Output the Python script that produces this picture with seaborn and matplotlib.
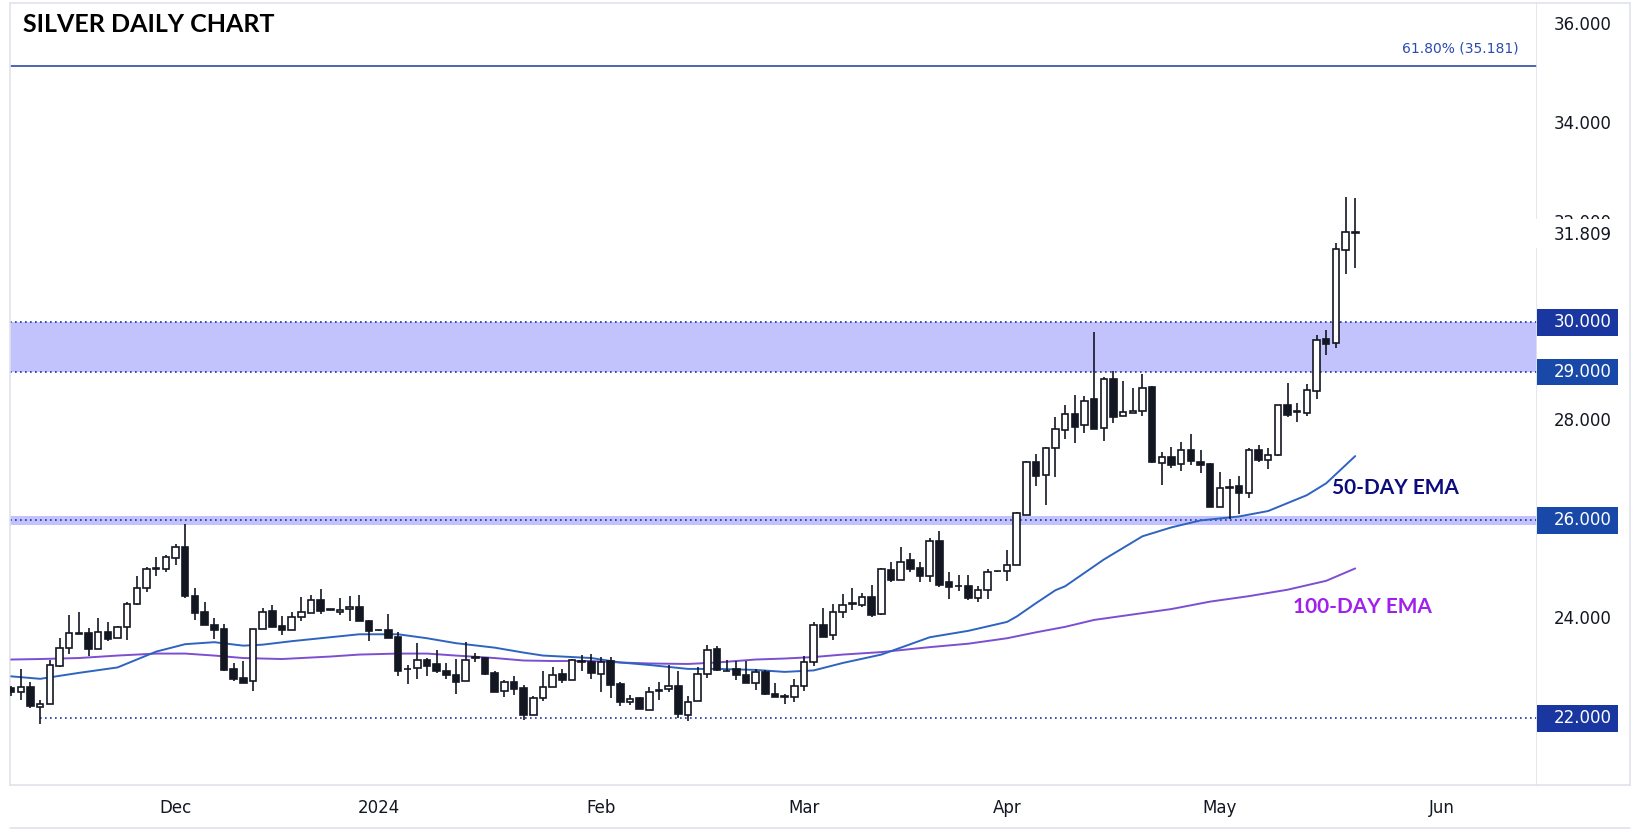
import numpy as np
import pandas as pd
import matplotlib
matplotlib.use("Agg")
import matplotlib.pyplot as plt
from matplotlib.patches import Rectangle
import seaborn as sns

# daily bars, weekdays from 8 Nov 2023 to 21 May 2024 (spot trades on holidays too)
dates = pd.bdate_range("2023-11-08", "2024-05-21")

opens = [22.61, 22.53, 22.63, 22.24, 22.30, 23.06, 23.43, 23.72, 23.72, 23.41,
         23.74, 23.62, 23.84, 24.32, 24.63, 25.02, 25.01, 25.25, 25.47, 24.48,
         24.14, 23.89, 23.80, 22.99, 22.81, 22.75, 23.80, 24.18, 23.86, 23.78,
         24.04, 24.12, 24.40, 24.20, 24.14, 24.22, 24.26, 23.96, 23.78, 23.78,
         23.64, 22.99, 23.01, 23.19, 23.09, 22.95, 22.87, 22.75, 23.22, 23.22,
         22.91, 22.55, 22.73, 22.61, 22.07, 22.42, 22.64, 22.90, 22.78, 23.17,
         23.14, 22.90, 23.17, 22.69, 22.33, 22.42, 22.18, 22.58, 22.60, 22.66,
         22.07, 22.36, 22.90, 23.41, 22.95, 22.99, 22.87, 22.71, 22.94, 22.50,
         22.44, 22.43, 22.65, 23.13, 23.89, 23.68, 24.16, 24.31, 24.30, 24.46,
         24.11, 24.99, 24.80, 25.20, 25.04, 24.88, 25.58, 24.75, 24.67, 24.67,
         24.44, 24.60, 24.97, 24.97, 25.09, 26.10, 27.19, 26.92, 27.47, 27.82,
         28.14, 27.92, 28.45, 27.87, 28.86, 28.10, 28.18, 28.22, 28.69, 27.15,
         27.29, 27.14, 27.43, 27.19, 27.14, 26.28, 26.66, 26.69, 26.56, 27.43,
         27.23, 27.33, 28.33, 28.20, 28.18, 28.61, 29.66, 29.58, 31.47, 31.82]
highs = [22.66, 23.00, 22.73, 22.37, 23.19, 23.62, 24.09, 24.15, 23.82, 24.03,
         23.95, 23.86, 24.35, 24.88, 25.05, 25.26, 25.31, 25.53, 25.93, 24.63,
         24.36, 24.03, 23.91, 23.12, 23.16, 23.80, 24.23, 24.29, 24.06, 24.16,
         24.45, 24.49, 24.61, 24.21, 24.43, 24.47, 24.49, 23.99, 23.79, 24.11,
         23.74, 23.08, 23.52, 23.22, 23.38, 23.11, 23.20, 23.54, 23.33, 23.24,
         22.96, 22.77, 22.86, 22.67, 22.45, 22.95, 23.03, 22.99, 23.21, 23.29,
         23.31, 23.25, 23.25, 22.73, 22.48, 22.44, 22.63, 22.73, 23.07, 22.95,
         22.46, 23.03, 23.49, 23.46, 23.19, 23.17, 23.17, 22.99, 22.97, 22.71,
         22.50, 22.79, 23.27, 23.95, 24.23, 24.31, 24.51, 24.63, 24.53, 24.69,
         25.04, 25.16, 25.46, 25.34, 25.16, 25.64, 25.79, 24.95, 24.89, 24.90,
         24.67, 25.02, 24.98, 25.40, 26.18, 27.21, 27.34, 27.49, 28.09, 28.33,
         28.53, 28.51, 29.80, 28.89, 29.01, 28.81, 28.67, 28.96, 28.71, 27.38,
         27.49, 27.58, 27.74, 27.43, 27.15, 26.97, 26.84, 26.89, 27.47, 27.52,
         27.47, 28.34, 28.77, 28.38, 28.75, 29.74, 29.85, 31.60, 32.53, 32.51]
lows = [22.45, 22.38, 22.21, 21.89, 22.30, 23.04, 23.31, 23.70, 23.27, 23.41,
        23.56, 23.62, 23.59, 24.30, 24.56, 24.88, 24.96, 25.10, 24.44, 23.99,
        23.89, 23.60, 22.96, 22.75, 22.72, 22.55, 23.80, 23.85, 23.69, 23.78,
        23.97, 24.12, 24.11, 24.19, 24.09, 23.97, 23.97, 23.57, 23.77, 23.63,
        22.86, 22.70, 22.80, 22.86, 22.92, 22.80, 22.50, 22.75, 23.13, 22.88,
        22.54, 22.44, 22.48, 21.96, 22.07, 22.35, 22.64, 22.71, 22.78, 22.96,
        22.80, 22.53, 22.41, 22.25, 22.27, 22.19, 22.18, 22.37, 22.53, 22.00,
        21.95, 22.36, 22.82, 22.96, 22.95, 22.78, 22.71, 22.57, 22.47, 22.43,
        22.29, 22.33, 22.55, 23.05, 23.65, 23.59, 24.03, 24.20, 24.26, 24.04,
        24.09, 24.76, 24.80, 24.96, 24.76, 24.76, 24.66, 24.42, 24.57, 24.39,
        24.36, 24.42, 24.96, 24.77, 25.09, 26.10, 26.70, 26.32, 26.88, 27.65,
        27.57, 27.77, 27.85, 27.61, 27.97, 28.10, 28.18, 28.10, 27.15, 26.71,
        27.06, 27.00, 27.11, 26.96, 26.28, 26.28, 26.03, 26.13, 26.45, 27.18,
        27.04, 27.31, 28.08, 27.99, 28.11, 28.46, 29.35, 29.49, 30.98, 31.10]
closes = [22.53, 22.63, 22.26, 22.30, 23.07, 23.43, 23.72, 23.70, 23.41, 23.74,
          23.61, 23.84, 24.31, 24.63, 25.02, 25.02, 25.27, 25.47, 24.48, 24.13,
          23.89, 23.79, 22.98, 22.80, 22.72, 23.80, 24.16, 23.85, 23.79, 24.04,
          24.14, 24.40, 24.18, 24.20, 24.20, 24.26, 23.97, 23.77, 23.78, 23.63,
          22.96, 23.00, 23.19, 23.06, 22.96, 22.88, 22.74, 23.19, 23.22, 22.90,
          22.54, 22.73, 22.60, 22.07, 22.42, 22.64, 22.88, 22.77, 23.19, 23.14,
          22.92, 23.14, 22.67, 22.33, 22.40, 22.19, 22.54, 22.55, 22.66, 22.09,
          22.34, 22.90, 23.39, 22.98, 22.95, 22.88, 22.71, 22.94, 22.49, 22.43,
          22.44, 22.66, 23.14, 23.89, 23.65, 24.16, 24.30, 24.33, 24.46, 24.09,
          25.02, 24.80, 25.17, 25.02, 24.88, 25.58, 24.70, 24.66, 24.67, 24.44,
          24.60, 24.95, 24.97, 25.09, 26.15, 27.19, 26.90, 27.47, 27.84, 28.14,
          27.89, 28.42, 27.85, 28.85, 28.08, 28.20, 28.22, 28.67, 27.19, 27.29,
          27.12, 27.43, 27.21, 27.12, 26.28, 26.65, 26.66, 26.56, 27.43, 27.23,
          27.33, 28.34, 28.13, 28.20, 28.63, 29.64, 29.57, 31.49, 31.82, 31.809]

# EMA values
ema50_dates = ["2023-11-08", "2023-11-13", "2023-11-17", "2023-11-23", "2023-11-29",
               "2023-12-04", "2023-12-07", "2023-12-12", "2023-12-14", "2023-12-19",
               "2023-12-25", "2023-12-28", "2024-01-03", "2024-01-08", "2024-01-11",
               "2024-01-17", "2024-01-22", "2024-01-24", "2024-01-31", "2024-02-05",
               "2024-02-08", "2024-02-14", "2024-02-19", "2024-02-23", "2024-02-28",
               "2024-03-04", "2024-03-07", "2024-03-13", "2024-03-20", "2024-03-26",
               "2024-04-01", "2024-04-02", "2024-04-04", "2024-04-08", "2024-04-09",
               "2024-04-15", "2024-04-19", "2024-04-24", "2024-04-29", "2024-05-03",
               "2024-05-08", "2024-05-14", "2024-05-16", "2024-05-21"]
ema50_vals = [22.85, 22.80, 22.92, 23.03, 23.35, 23.50, 23.54, 23.47, 23.49, 23.56,
              23.64, 23.70, 23.70, 23.62, 23.52, 23.43, 23.33, 23.27, 23.22, 23.13,
              23.08, 23.00, 23.00, 22.98, 22.94, 22.97, 23.12, 23.29, 23.64, 23.77,
              23.95, 24.06, 24.33, 24.59, 24.67, 25.21, 25.68, 25.86, 26.00, 26.08,
              26.19, 26.51, 26.75, 27.30]
ema100_dates = ["2023-11-08", "2023-11-13", "2023-11-17", "2023-11-23", "2023-11-29",
                "2023-12-04", "2023-12-07", "2023-12-12", "2023-12-18", "2023-12-25",
                "2023-12-28", "2024-01-03", "2024-01-08", "2024-01-11", "2024-01-17",
                "2024-01-22", "2024-01-25", "2024-01-31", "2024-02-05", "2024-02-08",
                "2024-02-14", "2024-02-19", "2024-02-23", "2024-02-28", "2024-03-04",
                "2024-03-07", "2024-03-13", "2024-03-20", "2024-03-26", "2024-04-01",
                "2024-04-04", "2024-04-09", "2024-04-12", "2024-04-18", "2024-04-24",
                "2024-04-30", "2024-05-06", "2024-05-10", "2024-05-16", "2024-05-21"]
ema100_vals = [23.19, 23.20, 23.22, 23.27, 23.31, 23.31, 23.27, 23.22, 23.20, 23.25,
               23.29, 23.31, 23.31, 23.27, 23.22, 23.17, 23.16, 23.16, 23.13, 23.11,
               23.10, 23.13, 23.19, 23.21, 23.24, 23.29, 23.34, 23.44, 23.51, 23.62,
               23.74, 23.85, 23.99, 24.10, 24.21, 24.36, 24.47, 24.60, 24.78, 25.03]

month_dates = ["2023-12-01", "2024-01-01", "2024-02-01", "2024-03-01",
               "2024-04-01", "2024-05-01", "2024-06-03"]
month_labels = ["Dec", "2024", "Feb", "Mar", "Apr", "May", "Jun"]

zone_hi = (29.0, 30.0)
zone_lo = (25.9, 26.09)
support = 22.0
fib_level = 35.181
last_price = closes[-1]

plain_ticks = [24, 28, 32, 34, 36]
boxed_ticks = [30, 29, 26, 22]

sns.set_theme(style="white")
plt.rcParams["font.family"] = ["DejaVu Sans"]

dark = "#131722"
grid_c = "#e0e3eb"
dot_c = "#1f2fa8"
W, H = 1634, 831
fig = plt.figure(figsize=(W / 100, H / 100), dpi=100)
fig.patch.set_facecolor("white")

bot, top = 46 / H, 828 / H
ax = fig.add_axes([10 / W, bot, 1527 / W, top - bot])
pax = fig.add_axes([1537 / W, bot, 93 / W, top - bot])

df = pd.DataFrame({"date": dates, "open": opens, "high": highs,
                   "low": lows, "close": closes})
df["i"] = np.arange(len(df))
up = df["close"] > df["open"]

# zones and levels
ax.axhspan(*zone_hi, color="#c2c2fd", lw=0, zorder=1)
ax.axhspan(*zone_lo, color="#c2c2fd", lw=0, zorder=1)
for lv in [zone_hi[0], zone_hi[1], 26.0]:
    ax.axhline(lv, color=dot_c, lw=1.2, ls=(0, (1, 2)), zorder=2)
ax.hlines(support, 3, 200, color=dot_c, lw=1.2, ls=(0, (1, 2)), zorder=2)
ax.axhline(fib_level, color="#1e3a9e", lw=1.1, zorder=2)
ax.text(155.9, fib_level + 0.22, "61.80% (35.181)", color="#2a4bb0",
        fontsize=10, ha="right", va="bottom")

# moving averages
pos50 = dates.get_indexer(pd.to_datetime(ema50_dates))
pos100 = dates.get_indexer(pd.to_datetime(ema100_dates))
sns.lineplot(x=pos100, y=ema100_vals, ax=ax, color="#7c4fd2", lw=1.4,
             estimator=None, sort=False, zorder=3)
sns.lineplot(x=pos50, y=ema50_vals, ax=ax, color="#2f63c0", lw=1.4,
             estimator=None, sort=False, zorder=3)

# candles
ax.vlines(df["i"], df["low"], df["high"], color=dark, lw=1.2, zorder=4)
body_lo = np.minimum(df["open"], df["close"])
body_h = np.maximum((df["close"] - df["open"]).abs(), 0.015)
ax.bar(df["i"], body_h, bottom=body_lo, width=0.68,
       color=np.where(up, "white", dark), edgecolor=dark, linewidth=1.2, zorder=5)

ax.text(143.2, 26.65, "50-DAY EMA", color="#0c0c7e", fontsize=15,
        fontweight="bold", family="Lato", ha="center", va="center", zorder=6)
ax.text(139.7, 24.26, "100-DAY EMA", color="#a020ee", fontsize=15,
        fontweight="bold", family="Lato", ha="center", va="center", zorder=6)

ylim = (20.655, 36.453)
ax.set_xlim(-0.12, 157.8)
ax.set_ylim(*ylim)
ax.set_yticks([])
mpos = [dates.get_loc(pd.Timestamp(d)) if pd.Timestamp(d) in dates else
        len(dates) + len(pd.bdate_range(dates[-1], d)) - 2 for d in month_dates]
ax.set_xticks(mpos)
ax.set_xticklabels(month_labels, fontsize=12, color=dark)
ax.tick_params(axis="x", length=0, pad=10)
for s in ax.spines.values():
    s.set_color(grid_c)
    s.set_linewidth(1.2)

# price scale
pax.set_ylim(*ylim)
pax.set_xlim(0, 1)
pax.set_xticks([])
pax.set_yticks([])
for name, s in pax.spines.items():
    s.set_color(grid_c)
    s.set_linewidth(1.2)
    if name == "left":
        s.set_visible(False)
tx = 0.80
for v in plain_ticks:
    pax.text(tx, v, f"{v:.3f}", ha="right", va="center", fontsize=12,
             color=dark, zorder=1)
box_h = 0.53
box_cols = {30: "#1a36a0", 29: "#1848a8", 26: "#1848a8", 22: "#1a36a0"}
for v in boxed_ticks:
    pax.add_patch(Rectangle((0.0, v - box_h / 2), 0.87, box_h, color=box_cols[v],
                            lw=0, zorder=3))
    pax.text(tx, v, f"{v:.3f}", ha="right", va="center", fontsize=12,
             color="white", zorder=4)
# last price label covers most of the 32.000 tick
pax.add_patch(Rectangle((-0.08, last_price - 0.30), 1.05, 0.58, color="white",
                        lw=0, zorder=3, clip_on=False))
pax.text(tx, last_price - 0.04, f"{last_price:.3f}", ha="right", va="center",
         fontsize=12, color=dark, zorder=4)

# outer frame of the time scale strip
fig.add_artist(plt.Line2D([10 / W, 1630 / W], [1 - 828 / H, 1 - 828 / H],
                          color=grid_c, lw=1.2))

fig.text(23 / W, 1 - 24 / H, "SILVER DAILY CHART", fontsize=18,
         fontweight="bold", family="Lato", color="black", ha="left", va="center")

fig.savefig("out.png", dpi=100, facecolor="white")
